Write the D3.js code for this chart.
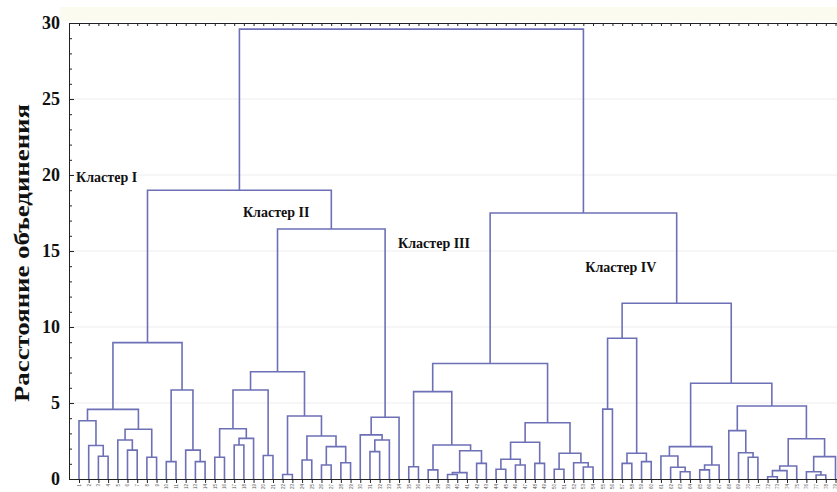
<!DOCTYPE html>
<html><head><meta charset="utf-8">
<script src="https://cdn.jsdelivr.net/npm/d3@7"></script>
<style>body{margin:0;background:#fff}svg{display:block}</style>
</head><body>
<svg id="chart" width="837" height="492"></svg>
<script>
// ---- DATA ----
const leafLabels = ["1","2","3","4","5","6","7","8","9","10","11","12","13","14","15","16","17","18","19","20",
"21","22","23","24","25","26","27","28","29","30","31","32","33","34","35","36","37","38","39","40",
"41","42","43","44","45","46","47","48","49","50","51","52","53","54","55","56","57","58","59","60",
"61","62","63","64","65","66","67","68","69","70","71","72","73","74","75","76","77","78","79"];
// linkage: ids < 79 are leaves (in display order), id 79+k is merge k
const mergeA = [2,1,0,5,4,7,83,81,9,12,11,87,86,
  14,16,93,92,19,95,21,23,25,27,100,99,98,97,30,106,29,108,105,91,
  34,36,38,114,41,115,113,112,43,45,120,47,122,49,52,51,125,124,119,
  54,56,58,132,131,62,61,60,64,139,138,69,68,67,71,145,146,76,75,149,147,144,141,135,130,111];
const mergeB = [3,79,80,6,82,8,84,85,10,13,88,89,90,
  15,17,18,94,20,96,22,24,26,28,101,102,103,104,31,32,107,33,109,110,
  35,37,39,40,42,116,117,118,44,46,121,48,123,50,53,126,127,128,129,
  55,57,59,133,134,63,136,137,65,66,140,70,142,143,72,73,74,77,148,78,150,151,152,153,154,155];
const mergeH = [1.5,2.2,3.83,1.9,2.57,1.43,3.27,4.58,1.14,1.14,1.9,5.86,8.97,
  1.43,2.24,2.67,3.31,1.55,5.86,0.3,1.25,0.92,1.07,2.13,2.83,4.14,7.06,1.8,2.57,2.9,4.06,16.45,19.0,
  0.81,0.6,0.3,0.42,1.03,1.86,2.24,5.75,0.64,0.92,1.3,1.03,2.42,0.64,0.79,1.07,1.69,3.7,7.6,
  4.6,1.03,1.14,1.69,9.26,0.48,0.77,1.51,0.6,0.92,2.13,1.43,1.73,3.18,0.15,0.55,0.86,0.26,0.48,1.47,2.65,4.8,6.3,11.56,17.5,29.6];
const yTicks = [0,5,10,15,20,25,30];
const yMinorTicks = [1,2,3,4,6,7,8,9,11,12,13,14,16,17,18,19,21,22,23,24,26,27,28,29];
const clusterNames = ["Кластер I","Кластер II","Кластер III","Кластер IV"];
const axisTitle = "Расстояние объединения";

// ---- DRAW ----
const W = 837, H = 492;
const svg = d3.select("#chart");
const nLeaves = leafLabels.length;
const x = d3.scalePoint().domain(d3.range(nLeaves)).range([79, 835.5]);
const y = d3.scaleLinear().domain([0, 30]).range([479, 23]);
const lineColor = "#6d70b6";

// faint band above plot
svg.append("rect").attr("x", 60).attr("y", 7).attr("width", W - 60).attr("height", 14).attr("fill", "#fbfbef");

// gridlines
svg.append("g").selectAll("line").data(yTicks.filter(v => v > 0 && v < 30)).join("line")
  .attr("x1", 70).attr("x2", W).attr("y1", d => y(d)).attr("y2", d => y(d))
  .attr("stroke", "#ededed").attr("stroke-width", 1);

// node positions
const nodeX = [], nodeH = [];
for (let i = 0; i < nLeaves; i++) { nodeX.push(x(i)); nodeH.push(0); }
mergeA.forEach((a, k) => {
  const b = mergeB[k];
  nodeX.push((nodeX[a] + nodeX[b]) / 2);
  nodeH.push(mergeH[k]);
});

// links
svg.append("g").attr("fill", "none").attr("stroke", lineColor).attr("stroke-width", 1.6)
  .selectAll("path").data(mergeA.map((a, k) => ({a, b: mergeB[k], h: mergeH[k]}))).join("path")
  .attr("d", d => `M${nodeX[d.a]},${y(nodeH[d.a])}V${y(d.h)}H${nodeX[d.b]}V${y(nodeH[d.b])}`);

// left axis
const gL = svg.append("g").attr("transform", "translate(69,0)");
gL.call(d3.axisLeft(y).tickValues(yMinorTicks).tickSize(-3).tickFormat(""));
gL.append("g").call(d3.axisLeft(y).tickValues(yTicks).tickSizeInner(-5).tickSizeOuter(0).tickPadding(9));
gL.selectAll(".domain").attr("stroke", "#222");
gL.selectAll(".tick line").attr("stroke", "#222");
gL.selectAll(".tick text").attr("font-family", "Liberation Serif").attr("font-weight", "bold")
  .attr("font-size", 18).attr("fill", "#111");

// bottom axis
const gB = svg.append("g").attr("transform", "translate(0,479)");
gB.call(d3.axisBottom(x).tickSizeInner(4).tickSizeOuter(0).tickPadding(2).tickFormat(i => leafLabels[i]));
gB.select(".domain").attr("stroke", "#222").attr("d", `M69,0.5H${W}`);
gB.selectAll(".tick line").attr("stroke", "#222");
gB.selectAll(".tick text").attr("font-family", "Liberation Sans").attr("font-size", 4.5).attr("fill", "#555")
  .attr("transform", "rotate(-90)").attr("text-anchor", "end").attr("dy", "0.32em").attr("x", -5).attr("y", 0);

// top axis
const gT = svg.append("g").attr("transform", "translate(0,23)");
gT.call(d3.axisTop(x).tickSizeInner(-3).tickSizeOuter(0).tickFormat(""));
gT.select(".domain").attr("stroke", "#222").attr("d", `M69,0.5H${W}`);
gT.selectAll(".tick line").attr("stroke", "#222");

// axis title
svg.append("text").attr("transform", `translate(22,${(y(0) + y(30)) / 2 + 2}) rotate(-90)`)
  .attr("text-anchor", "middle").attr("dy", "0.35em")
  .attr("font-family", "Liberation Serif").attr("font-weight", "bold").attr("font-size", 21)
  .attr("textLength", 298).attr("lengthAdjust", "spacingAndGlyphs")
  .attr("fill", "#111").text(axisTitle);

// cluster labels (anchored in data space: leaf position, distance)
const labelPos = [[-0.3, 19.85], [16.9, 17.55], [32.9, 15.5], [52.2, 13.95]];
svg.append("g").selectAll("text").data(clusterNames).join("text")
  .attr("x", (d, i) => 79 + (x(1) - x(0)) * labelPos[i][0])
  .attr("y", (d, i) => y(labelPos[i][1]))
  .attr("dy", "0.35em")
  .attr("font-family", "Liberation Serif").attr("font-weight", "bold").attr("font-size", 14)
  .attr("fill", "#111").text(d => d);
</script>
</body></html>
